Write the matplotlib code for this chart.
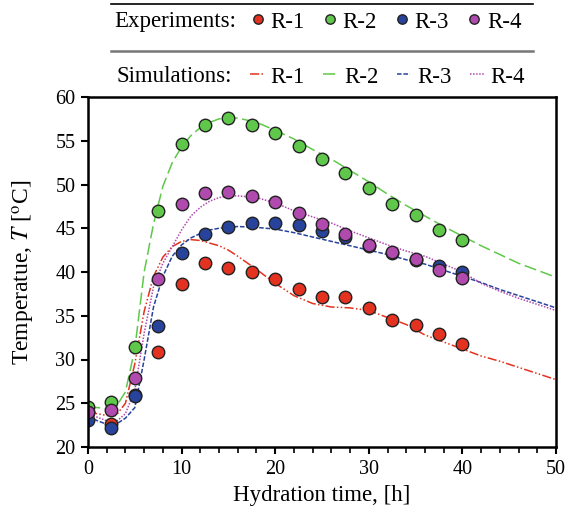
import numpy as np
import matplotlib
matplotlib.use("Agg")
import matplotlib.pyplot as plt
from matplotlib.lines import Line2D
from matplotlib.ticker import MultipleLocator

plt.rcParams['font.family'] = ['Liberation Serif', 'DejaVu Serif']
plt.rcParams['mathtext.fontset'] = 'stix'

# experimental points
t_exp = [0, 2.5, 5, 7.5, 10, 12.5, 15, 17.5, 20, 22.5, 25, 27.5, 30, 32.5, 35, 37.5, 40]
exp_r1 = [24.0, 22.6, 25.9, 30.9, 38.6, 41.0, 40.5, 40.0, 39.2, 38.1, 37.2, 37.1, 35.9, 34.5, 34.0, 32.9, 31.8]
exp_r2 = [24.6, 25.1, 31.4, 47.0, 54.6, 56.8, 57.6, 56.8, 55.9, 54.4, 52.9, 51.3, 49.6, 47.8, 46.5, 44.8, 43.7]
exp_r3 = [23.1, 22.2, 25.8, 33.8, 42.2, 44.4, 45.2, 45.6, 45.6, 45.4, 44.7, 44.0, 43.0, 42.2, 41.4, 40.7, 40.0]
exp_r4 = [24.0, 24.2, 27.9, 39.2, 47.8, 49.0, 49.1, 48.7, 48.0, 46.7, 45.5, 44.3, 43.1, 42.3, 41.5, 40.2, 39.3]

# simulated curves
t_sim = [0, 1, 2, 3, 4, 5, 6, 7, 8, 9, 10, 11, 12, 13, 14, 15, 16, 18, 20,
         22, 24, 26, 28, 30, 32, 34, 36, 38, 40, 42, 44, 46, 48, 50]
sim_r1 = [24.0, 23.8, 23.6, 23.6, 25.0, 29.5, 35.5, 39.5, 41.7, 42.9, 43.5, 43.7, 43.6, 43.3, 43.0, 42.5, 41.8, 40.3, 38.7,
          37.3, 36.4, 36.0, 35.9, 35.6, 34.8, 34.0, 32.8, 32.0, 31.2, 30.4, 29.8, 29.1, 28.4, 27.7]
sim_r2 = [24.6, 24.5, 24.4, 24.6, 26.3, 31.2, 40.0, 45.5, 49.8, 52.5, 54.3, 55.6, 56.5, 57.1, 57.5, 57.6, 57.6, 57.1, 56.2,
          55.2, 54.0, 52.9, 51.6, 50.3, 48.9, 47.6, 46.4, 45.2, 44.1, 43.0, 42.0, 41.0, 40.2, 39.4]
sim_r3 = [23.5, 23.0, 22.6, 22.6, 23.3, 24.5, 30.0, 36.0, 39.5, 41.8, 43.1, 43.9, 44.4, 44.8, 45.0, 45.1, 45.2, 45.1, 44.9,
          44.5, 44.0, 43.5, 43.0, 42.5, 42.0, 41.4, 40.9, 40.2, 39.5, 38.8, 38.0, 37.3, 36.6, 35.9]
sim_r4 = [23.9, 23.4, 23.0, 22.9, 23.8, 26.5, 33.0, 38.3, 41.0, 42.9, 44.8, 46.4, 47.4, 48.1, 48.5, 48.7, 48.7, 48.5, 47.9,
          47.0, 46.3, 45.6, 44.7, 43.9, 43.1, 42.4, 41.8, 40.9, 40.0, 38.7, 37.8, 37.0, 36.3, 35.6]

labels = ['R-1', 'R-2', 'R-3', 'R-4']
colors = ['#e3321f', '#5fc84a', '#28439c', '#b04aae']
styles = [(0, (6, 1.5, 1, 1.5, 1, 1.5)), (0, (8, 3)), (0, (3, 1.2)), (0, (1, 1))]

fig = plt.figure(figsize=(5.66, 5.15), dpi=100)
ax = fig.add_axes([88/566, 1-447/515, 468/566, 350/515])

sim_lines = []
for y, c, ls in zip([sim_r1, sim_r2, sim_r3, sim_r4], colors, styles):
    l, = ax.plot(t_sim, y, color=c, linestyle=ls, linewidth=1.1)
    sim_lines.append(l)

exp_pts = []
for y, c in zip([exp_r1, exp_r2, exp_r3, exp_r4], colors):
    p, = ax.plot(t_exp, y, linestyle='none', marker='o', markersize=9,
                 markerfacecolor=c, markeredgecolor='#222222', markeredgewidth=1.0)
    exp_pts.append(p)

ax.set_xlim(0, 50)
ax.set_ylim(20, 60)
ax.xaxis.set_major_locator(MultipleLocator(10))
ax.xaxis.set_minor_locator(MultipleLocator(2))
ax.yaxis.set_major_locator(MultipleLocator(5))
ax.tick_params(which='major', direction='out', length=5, width=1.5, labelsize=14.5, pad=4)
ax.tick_params(which='minor', direction='out', length=4, width=1.2)
for s in ax.spines.values():
    s.set_linewidth(1.8)

ax.set_xlabel('Hydration time, [h]', fontsize=16.5, labelpad=5)
ax.set_ylabel('Temperatue, $T$ [$^\\mathrm{o}$C]', fontsize=17, labelpad=13)

# legend block above the axes
fig.add_artist(Line2D([111/566, 533/566], [1-4/515, 1-4/515], color='black', linewidth=1.2))
fig.add_artist(Line2D([111/566, 533/566], [1-51/515, 1-51/515], color='#777777', linewidth=1.8))

fig.text(114/566, 1-22/515, 'Experiments:', fontsize=16.5, va='center', ha='left')
fig.text(117/566, 1-77/515, 'Simulations:', fontsize=16.5, va='center', ha='left')

fig.legend(exp_pts, labels, ncol=4, loc='center left', bbox_to_anchor=(251/566, 1-22/515),
           frameon=False, fontsize=16.5, markerscale=0.75, handlelength=0.6, handletextpad=0.25,
           columnspacing=0.8, borderpad=0, borderaxespad=0)
fig.legend(sim_lines, labels, ncol=4, loc='center left', bbox_to_anchor=(250/566, 1-77/515),
           frameon=False, fontsize=16.5, handlelength=0.6, handletextpad=0.3,
           columnspacing=0.8, borderpad=0, borderaxespad=0)

fig.savefig('out.png', dpi=100)
